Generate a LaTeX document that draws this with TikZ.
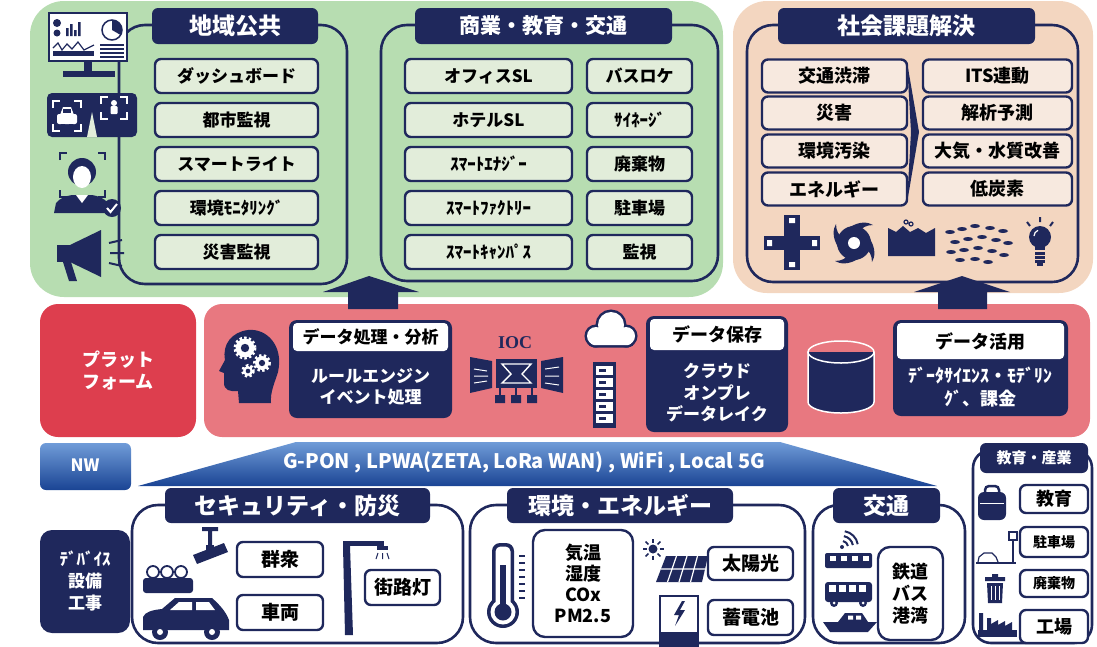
\documentclass[tikz,border=0pt]{standalone}
\usepackage{fontspec}
\setmainfont{Noto Sans CJK JP}
\newfontfamily\iocfont{Liberation Serif}
\usetikzlibrary{positioning}

\definecolor{navy}{RGB}{31,40,92}
\definecolor{greenbg}{RGB}{183,221,177}
\definecolor{greenitem}{RGB}{226,237,218}
\definecolor{peachbg}{RGB}{243,214,192}
\definecolor{peachitem}{RGB}{247,233,223}
\definecolor{pinkband}{RGB}{232,120,128}
\definecolor{redbox}{RGB}{221,62,78}
\definecolor{nwlight}{RGB}{112,156,216}
\definecolor{nwdark}{RGB}{26,68,148}

\newcommand\jpsize[2]{\bfseries\fontsize{#1}{#2}\selectfont}
% corner marks of a scan frame: x1, y1, x2, y2, colour
\newcommand\scanframe[5]{%
  \draw[#5, line width=2pt] (#1,#2+7) -- (#1,#2) -- (#1+7,#2);
  \draw[#5, line width=2pt] (#3-7,#2) -- (#3,#2) -- (#3,#2+7);
  \draw[#5, line width=2pt] (#1,#4-7) -- (#1,#4) -- (#1+7,#4);
  \draw[#5, line width=2pt] (#3-7,#4) -- (#3,#4) -- (#3,#4-7);}
% small gear: x, y, radius
\newcommand\cog[3]{%
  \draw[white, line width=3pt, dash pattern=on 2.4pt off 2.2pt] (#1,#2) circle (#3);
  \fill[white] (#1,#2) circle (#3-0.6);
  \fill[navy] (#1,#2) circle (#3*0.42);}

\begin{document}
\begin{tikzpicture}[x=1pt, y=-1pt,
    titletab/.style={fill=navy, text=white, rounded corners=6pt, inner sep=0pt,
      minimum height=36pt, font=\jpsize{21}{23}},
    grouprim/.style={draw=navy, line width=2.6pt, rounded corners=26pt},
    itembox/.style={draw=navy, line width=2.4pt, fill=#1, rounded corners=6pt,
      inner sep=0pt, minimum height=34pt, font=\jpsize{17}{19}},
    itembox/.default=white,
    darkbox/.style={fill=navy, rounded corners=8pt, inner sep=0pt},
    headbox/.style={fill=white, rounded corners=4pt, inner sep=0pt, font=\jpsize{17}{19}},
    bodytext/.style={text=white, align=center, font=\jpsize{17}{21.5}},
  ]
  \useasboundingbox (0,0) rectangle (1097,646);

  % Backgrounds
  \fill[greenbg, rounded corners=34pt] (30,1) rectangle (723,297);
  \fill[peachbg, rounded corners=34pt] (733,1) rectangle (1093,293);
  \fill[redbox, rounded corners=18pt] (40,304) rectangle (196,437);
  \fill[pinkband, rounded corners=18pt] (204,304) rectangle (1090,437);

  % Group rims
  \draw[grouprim] (119,25) rectangle (347,284);
  \draw[grouprim] (381,25) rectangle (718,281);
  \draw[grouprim] (747,25) rectangle (1078,282);
  \draw[grouprim] (132,505) rectangle (463,643);
  \draw[grouprim] (470,505) rectangle (805,643);
  \draw[grouprim] (813,505) rectangle (965,643);
  \draw[grouprim, rounded corners=18pt] (973,450) rectangle (1092,643);

  % Titles
  \node[titletab, minimum width=166pt, font=\jpsize{23}{25}] (chiiki) at (235,26) {地域公共};
  \node[titletab, minimum width=257pt] (shogyo) at (543.5,26) {商業・教育・交通};
  \node[titletab, minimum width=257pt, font=\jpsize{23}{25}] (kadai) at (906.5,26) {社会課題解決};
  \node[titletab, minimum width=265pt, minimum height=35pt, font=\jpsize{23}{25}] (bosai) at (297.5,505.5) {セキュリティ・防災};
  \node[titletab, minimum width=226pt, minimum height=35pt, font=\jpsize{23}{25}] (kankyo) at (620,505.5) {環境・エネルギー};
  \node[titletab, minimum width=107pt, minimum height=35pt, font=\jpsize{23}{25}] (kotsu) at (886.5,505.5) {交通};
  \node[titletab, minimum width=108pt, minimum height=30pt, font=\jpsize{15}{17}] (sangyo) at (1034,458) {教育・産業};

  % Public items
  \node[itembox=greenitem, minimum width=163pt] (dash) at (236.5,76) {ダッシュボード};
  \node[itembox=greenitem, minimum width=163pt] (toshi) at (236.5,120) {都市監視};
  \node[itembox=greenitem, minimum width=163pt] (light) at (236.5,164) {スマートライト};
  \node[itembox=greenitem, minimum width=163pt] (monitor) at (236.5,208) {環境ﾓﾆﾀﾘﾝｸﾞ};
  \node[itembox=greenitem, minimum width=163pt] (saigai) at (236.5,252) {災害監視};

  % Business items
  \node[itembox=greenitem, minimum width=167pt] (office) at (488.5,76) {オフィスSL};
  \node[itembox=greenitem, minimum width=167pt] (hotel) at (488.5,120) {ホテルSL};
  \node[itembox=greenitem, minimum width=167pt] (energy) at (488.5,164) {ｽﾏｰﾄｴﾅｼﾞｰ};
  \node[itembox=greenitem, minimum width=167pt] (factory) at (488.5,208) {ｽﾏｰﾄﾌｧｸﾄﾘｰ};
  \node[itembox=greenitem, minimum width=167pt] (campus) at (488.5,252) {ｽﾏｰﾄｷｬﾝﾊﾟｽ};
  \node[itembox=greenitem, minimum width=105pt] (busloc) at (639.5,76) {バスロケ};
  \node[itembox=greenitem, minimum width=105pt] (signage) at (639.5,120) {ｻｲﾈｰｼﾞ};
  \node[itembox=greenitem, minimum width=105pt] (waste) at (639.5,164) {廃棄物};
  \node[itembox=greenitem, minimum width=105pt] (parking) at (639.5,208) {駐車場};
  \node[itembox=greenitem, minimum width=105pt] (kanshi) at (639.5,252) {監視};

  % Issues and answers
  \tikzset{issue/.style={itembox=peachitem, minimum height=33pt, font=\jpsize{18}{20}}}
  \node[issue, minimum width=145pt] (jutai) at (834.5,76) {交通渋滞};
  \node[issue, minimum width=145pt] (disaster) at (834.5,113) {災害};
  \node[issue, minimum width=145pt] (osen) at (834.5,151) {環境汚染};
  \node[issue, minimum width=145pt] (enerugi) at (834.5,189) {エネルギー};
  \node[issue, minimum width=149pt] (its) at (997.5,76) {ITS連動};
  \node[issue, minimum width=149pt] (yosoku) at (997.5,113) {解析予測};
  \node[issue, minimum width=149pt] (taiki) at (997.5,151) {大気・水質改善};
  \node[issue, minimum width=149pt] (tanso) at (997.5,189) {低炭素};
  \fill[navy] (907,62) -- (919,132) -- (907,203) -- (911,132) -- cycle;

  % Dashboard monitor
  \draw[navy, line width=2pt, fill=white] (49,13) rectangle (127,61);
  \fill[navy] (84,61) rectangle (92,71);
  \fill[navy] (63,71) rectangle (115,77);
  \fill[navy] (57,23) circle (4) (57,33) circle (3.5);
  \fill[navy] (66,36) rectangle (68.5,28) (70,36) rectangle (72.5,24)
    (74,36) rectangle (76.5,30) (78,36) rectangle (80.5,22);
  \draw[navy, line width=1.5pt] (112,30) circle (10);
  \fill[navy] (112,30) -- (112,20) arc[start angle=-90, end angle=30, radius=10] -- cycle;
  \draw[navy, line width=1.2pt] (53,48) -- (58,43) -- (62,50) -- (67,44) -- (72,49) -- (78,42) -- (84,50) -- (94,45);
  \fill[navy] (53,51) rectangle (94,56);
  \foreach \yy in {45,49,53,57} \draw[navy, line width=1.4pt] (100,\yy) -- (124,\yy);

  % Car and body scan
  \fill[navy, rounded corners=5pt] (47,93) rectangle (137,137);
  \fill[greenitem] (87,137) -- (92,112) -- (97,137) -- cycle;
  \scanframe{53}{101}{81}{131}{white}
  \fill[white, rounded corners=2pt] (57,114) rectangle (77,124);
  \fill[white] (60,115) -- (63,107) -- (71,107) -- (74,115) -- cycle;
  \fill[navy] (63,109) rectangle (71,113);
  \fill[navy] (61,124) rectangle (65,127) (69,124) rectangle (73,127);
  \scanframe{101}{97}{127}{119}{white}
  \fill[white] (114,103) circle (3);
  \fill[white, rounded corners=1pt] (110.5,106) rectangle (117.5,114);

  % Face recognition
  \scanframe{60}{153}{105}{197}{navy}
  \fill[navy] (82,172) circle (14);
  \fill[white] (82,177) ellipse (9 and 11);
  \fill[navy] (54,213) -- (56,203) .. controls (60,198) and (66,196) .. (72,195)
    -- (92,195) .. controls (98,196) and (104,198) .. (108,203) -- (110,213) -- cycle;
  \fill[white] (76,195) -- (82,203) -- (88,195) -- cycle;
  \fill[navy] (112,208) circle (9);
  \draw[white, line width=2pt] (107,208) -- (110.5,212) -- (117,204);

  % Megaphone
  \fill[navy] (57,245) rectangle (71,262);
  \fill[navy] (70,245) -- (101,230) -- (101,277) -- (70,262) -- cycle;
  \fill[navy] (63,262) -- (71,262) -- (77,281) -- (69,281) -- cycle;
  \draw[navy, line width=2pt] (109,243) -- (122,240) (110,253) -- (124,253) (109,263) -- (122,266);

  % Social issue pictograms
  \fill[navy] (784,215) rectangle (800,270);
  \fill[navy] (764,236) rectangle (820,250);
  \fill[white] (767,240) rectangle (772,246) (812,240) rectangle (817,246)
    (789,218) rectangle (795,223) (789,262) rectangle (795,267);
  \fill[navy] (854,243) circle (17);
  \foreach \a in {0,90,180,270}
    \fill[navy, rotate around={\a:(854,243)}] (850,227) .. controls (860,221) and (868,222) .. (873,225)
      .. controls (866,225) and (861,228) .. (860,232) -- cycle;
  \fill[white] (854,243) circle (6);
  \fill[navy] (888,228) -- (896,232) -- (903,226) -- (910,232) -- (918,228) -- (926,233)
    -- (935,228) -- (935,256) -- (888,256) -- cycle;
  \draw[navy, line width=1.2pt] (906,222) circle (2) (911,224) circle (2);
  \foreach \fx/\fy in {950/232,962/229,975/226,990/228,1003/231,955/242,968/239,982/237,
    996/240,1008/243,951/252,964/250,978/248,992/251,1004/255,960/260,975/259,988/262}
    \fill[navy] (\fx,\fy) ellipse (5 and 2);
  \fill[navy] (1040,237) circle (11);
  \fill[navy] (1035,245) rectangle (1045,250);
  \draw[white, line width=1.2pt] (1034,236) arc[start angle=180, end angle=250, radius=6];
  \foreach \by in {252,256,260} \fill[navy] (1035,\by) rectangle (1045,\by+2.5);
  \fill[navy] (1037,263) rectangle (1043,266);
  \draw[navy, line width=2pt] (1040,217) -- (1040,222) (1027,222) -- (1030,226)
    (1053,222) -- (1050,226);

  % Platform
  \node[text=white, align=center, font=\jpsize{18}{22}] (platform) at (118,371) {プラット\\フォーム};
  \fill[navy] (271,403) .. controls (270,392) and (275,382) .. (278,372)
    .. controls (284,345) and (266,328) .. (248,330)
    .. controls (232,332) and (222,344) .. (225,360) -- (219,371) -- (224,373) -- (224,383)
    .. controls (224,390) and (230,392) .. (238,391) -- (239,403) -- cycle;
  \cog{245}{348}{10}
  \cog{262}{363}{7.5}
  \cog{248}{371}{5.5}

  \node[darkbox, minimum width=163pt, minimum height=98pt] (proc) at (370.5,369) {};
  \node[headbox, minimum width=155pt, minimum height=28pt] (prochead) at (370.5,337) {データ処理・分析};
  \node[bodytext] (proctext) at (370.5,387) {ルールエンジン\\イベント処理};

  \node[font=\iocfont\bfseries\fontsize{18}{20}\selectfont, text=navy] (ioc) at (515,343) {IOC};
  \fill[navy] (470,357) -- (492,361) -- (492,388) -- (470,393) -- cycle;
  \fill[navy] (496,359) rectangle (537,388);
  \fill[navy] (541,361) -- (563,357) -- (563,393) -- (541,388) -- cycle;
  \draw[white, line width=1.4pt] (502,364) -- (531,364) -- (522,374) -- (531,383) -- (502,383) -- (511,374) -- cycle;
  \draw[white, line width=1pt] (474,369) -- (487,371) (474,376) -- (488,376) (474,383) -- (487,381)
    (545,369) -- (559,367) (545,376) -- (559,376) (545,383) -- (559,385);
  \draw[navy, line width=1.5pt] (500,388) -- (500,396) (516,388) -- (516,396) (532,388) -- (532,396);
  \fill[navy] (495,395) rectangle (505,403) (511,395) rectangle (521,403) (527,395) rectangle (537,403);

  \draw[navy, line width=5pt] (596,336) circle (9) (611,325) circle (13) (626,336) circle (9);
  \draw[navy, line width=5pt, rounded corners=4pt] (590,333) rectangle (632,345);
  \fill[white] (596,336) circle (9) (611,325) circle (13) (626,336) circle (9);
  \fill[white, rounded corners=4pt] (590,333) rectangle (632,345);
  \fill[navy] (593,362) rectangle (616,428);
  \foreach \yy in {366,378,390,402,414} {
    \fill[white] (596,\yy) rectangle (613,\yy+9);
    \fill[navy] (599,\yy+3) rectangle (606,\yy+6);
  }

  \node[darkbox, minimum width=142pt, minimum height=116pt] (store) at (717,374) {};
  \node[headbox, minimum width=134pt, minimum height=31pt, font=\jpsize{18}{20}] (storehead) at (717,334.5) {データ保存};
  \node[bodytext] (storetext) at (717,393) {クラウド\\オンプレ\\データレイク};

  \fill[navy] (808,352) rectangle (874,402);
  \fill[navy] (841,402) ellipse (33 and 11);
  \draw[white, line width=1.5pt] (841,352) ellipse (33 and 11);
  \draw[white, line width=1.5pt] (808,352) -- (808,402) arc[start angle=180, end angle=0, x radius=33, y radius=11] -- (874,352);

  \node[darkbox, minimum width=175pt, minimum height=96pt] (use) at (980.5,368) {};
  \node[headbox, minimum width=167pt, minimum height=36pt, font=\jpsize{18}{20}] (usehead) at (980.5,341) {データ活用};
  \node[bodytext, font=\jpsize{18}{23}] (usetext) at (980.5,387) {ﾃﾞｰﾀｻｲｴﾝｽ・ﾓﾃﾞﾘﾝ\\ｸﾞ、課金};

  % Upward arrows
  \fill[navy] (323,292) -- (369,276) -- (419,292) -- (398,292) -- (398,309) -- (348,309) -- (348,292) -- cycle;
  \fill[navy] (914,292) -- (962,276) -- (1010,292) -- (987,292) -- (987,309) -- (938,309) -- (938,292) -- cycle;

  % Network
  \shade[top color=nwlight, bottom color=nwdark, rounded corners=6pt] (40,443) rectangle (131,490);
  \node[text=white, font=\jpsize{17}{19}] (nw) at (85,465) {NW};
  \shade[top color=nwlight, bottom color=nwdark] (138,486) -- (296,442) -- (780,442) -- (937,486) -- cycle;
  \node[text=white, font=\jpsize{20}{22}] (nwtext) at (524,462) {G-PON , LPWA(ZETA, LoRa WAN) , WiFi , Local 5G};

  % Devices
  \node[darkbox, rounded corners=12pt, minimum width=90pt, minimum height=103pt] (device) at (85,581.5) {};
  \node[bodytext, font=\jpsize{17}{22}] (devicetext) at (85,581) {ﾃﾞﾊﾞｲｽ\\設備\\工事};

  % Security and disaster prevention
  \node[itembox, minimum width=86pt, minimum height=35pt, font=\jpsize{19}{21}] (gunshu) at (280,559.5) {群衆};
  \node[itembox, minimum width=86pt, minimum height=35pt, font=\jpsize{19}{21}] (sharyo) at (280,612.5) {車両};
  \node[itembox, minimum width=75pt, minimum height=35pt, font=\jpsize{19}{21}] (gairo) at (402.5,587.5) {街路灯};
  \fill[navy, rounded corners=3pt] (143,578) rectangle (193,593);
  \foreach \hx in {153,167,181} \draw[navy, line width=1.8pt, fill=white] (\hx,572) circle (6);
  \fill[navy] (208,528) rectangle (212,545) (202,527) rectangle (218,531);
  \fill[navy] (193,555) -- (224,543) -- (228,552) -- (197,564) -- cycle;
  \fill[navy] (206,545) rectangle (214,551);
  \fill[navy] (143,630) -- (143,617) .. controls (145,612) and (152,610) .. (162,609) -- (175,598)
    -- (212,598) .. controls (220,605) and (226,612) .. (229,620) -- (229,630) -- cycle;
  \fill[white] (179,602) -- (192,602) -- (192,610) -- (170,610) -- cycle;
  \fill[white] (196,602) -- (209,602) -- (215,610) -- (196,610) -- cycle;
  \fill[navy] (160,632) circle (8) (212,632) circle (8);
  \fill[white] (160,632) circle (3) (212,632) circle (3);
  \fill[navy] (343,546) -- (350,546) -- (353,635) -- (345,635) -- cycle;
  \fill[navy] (343,541) rectangle (384,546);
  \fill[navy] (377,546) rectangle (388,550);
  \draw[navy, line width=1pt] (378,553) -- (376,559) (382.5,553) -- (382.5,559) (387,553) -- (389,559);

  % Environment and energy
  \node[itembox, rounded corners=12pt, minimum width=100pt, minimum height=107pt, align=center,
    font=\jpsize{18}{21}] (kion) at (583,583.5) {気温\\湿度\\COx\\PM2.5};
  \node[itembox, minimum width=85pt, minimum height=33pt, font=\jpsize{19}{21}] (solar) at (750.5,563.5) {太陽光};
  \node[itembox, minimum width=85pt, minimum height=35pt, font=\jpsize{19}{21}] (battery) at (750.5,617.5) {蓄電池};
  \fill[navy, rounded corners=8pt] (492,543) rectangle (514,612);
  \fill[navy] (503,612) circle (16);
  \fill[white, rounded corners=5pt] (495.5,546.5) rectangle (510.5,612);
  \fill[white] (503,612) circle (12.5);
  \fill[navy] (500,565) rectangle (506,612);
  \fill[navy] (503,612) circle (8.5);
  \foreach \yy in {556,563,...,598} \draw[navy, line width=2pt] (519,\yy) -- (525,\yy);
  \fill[navy] (653,549) circle (4.5);
  \foreach \a in {0,45,...,315} \draw[navy, line width=1.5pt] (653,549) ++(\a:6.5) -- ++(\a:4);
  \fill[navy] (666,556) -- (708,556) -- (702,582) -- (656,582) -- cycle;
  \draw[white, line width=1.2pt] (661,569) -- (705,569)
    (676.5,556) -- (667.5,582) (687,556) -- (679,582) (697.5,556) -- (690.5,582);
  \draw[navy, line width=2.5pt] (660,596) rectangle (698,652);
  \fill[navy] (660,632) rectangle (698,652);
  \fill[navy] (682,601) -- (674,615) -- (679,615) -- (675,626) -- (685,610) -- (680,610) -- (685,601) -- cycle;

  % Transport
  \node[itembox, rounded corners=12pt, minimum width=65pt, minimum height=93pt, align=center,
    font=\jpsize{18}{22}] (tetsudo) at (910.5,593.5) {鉄道\\バス\\港湾};
  \fill[navy] (842,547) circle (2);
  \foreach \r in {6,11,16} \draw[navy, line width=2pt] (842,547) ++(-10:\r) arc[start angle=-10, end angle=-80, radius=\r];
  \fill[navy, rounded corners=2pt] (825,553) rectangle (872,568);
  \foreach \wx in {830,841,852,863} \fill[white] (\wx,556) rectangle (\wx+6,561);
  \fill[navy, rounded corners=3pt] (825,582) rectangle (872,602);
  \foreach \wx in {829,839,849,859} \fill[white] (\wx,585) rectangle (\wx+7,592);
  \fill[navy] (834,603) circle (4) (863,603) circle (4);
  \fill[white] (834,603) circle (1.5) (863,603) circle (1.5);
  \fill[navy] (823,622) -- (877,622) -- (868,632) -- (830,632) -- cycle;
  \fill[navy] (838,622) -- (845,613) -- (862,613) -- (868,622) -- cycle;
  \fill[white] (848,615.5) rectangle (853,619.5) (856,615.5) rectangle (861,619.5);

  % Education and industry
  \node[itembox, minimum width=68pt, minimum height=28pt, font=\jpsize{18}{20}] (kyoiku) at (1054,499) {教育};
  \node[itembox, minimum width=68pt, minimum height=30pt, font=\jpsize{14}{16}] (chusha) at (1054,542) {駐車場};
  \node[itembox, minimum width=68pt, minimum height=27pt, font=\jpsize{14}{16}] (haiki) at (1054,583.5) {廃棄物};
  \node[itembox, minimum width=68pt, minimum height=33pt, font=\jpsize{18}{20}] (kojo) at (1054,626.5) {工場};
  \fill[navy, rounded corners=6pt] (978,492) rectangle (1006,520);
  \draw[navy, line width=2.5pt, rounded corners=4pt] (985,493) -- (985,486) -- (999,486) -- (999,493);
  \draw[white, line width=1pt] (980,503) -- (1004,503);
  \draw[navy, line width=1.5pt] (1013,536) -- (1013,562);
  \draw[navy, line width=1.5pt, fill=white] (1009,532) rectangle (1017,540);
  \draw[navy, line width=1.2pt] (976,563) -- (1016,563);
  \draw[navy, line width=1.2pt] (978,562) -- (979,557) -- (984,553) -- (992,553) -- (996,557) -- (998,562);
  \fill[navy] (985,577) rectangle (1005,581) (992,574) rectangle (998,577);
  \fill[navy] (987,583) -- (1003,583) -- (1002,603) -- (988,603) -- cycle;
  \foreach \tx in {991,995,999} \draw[white, line width=1pt] (\tx,586) -- (\tx,600);
  \fill[navy] (978,637) rectangle (1017,630);
  \fill[navy] (979,613) rectangle (983,630) (987,618) rectangle (991,630);
  \fill[navy] (991,630) -- (991,624) -- (998,620) -- (998,625) -- (1005,621) -- (1005,626) -- (1012,622) -- (1012,630) -- cycle;
\end{tikzpicture}
\end{document}
